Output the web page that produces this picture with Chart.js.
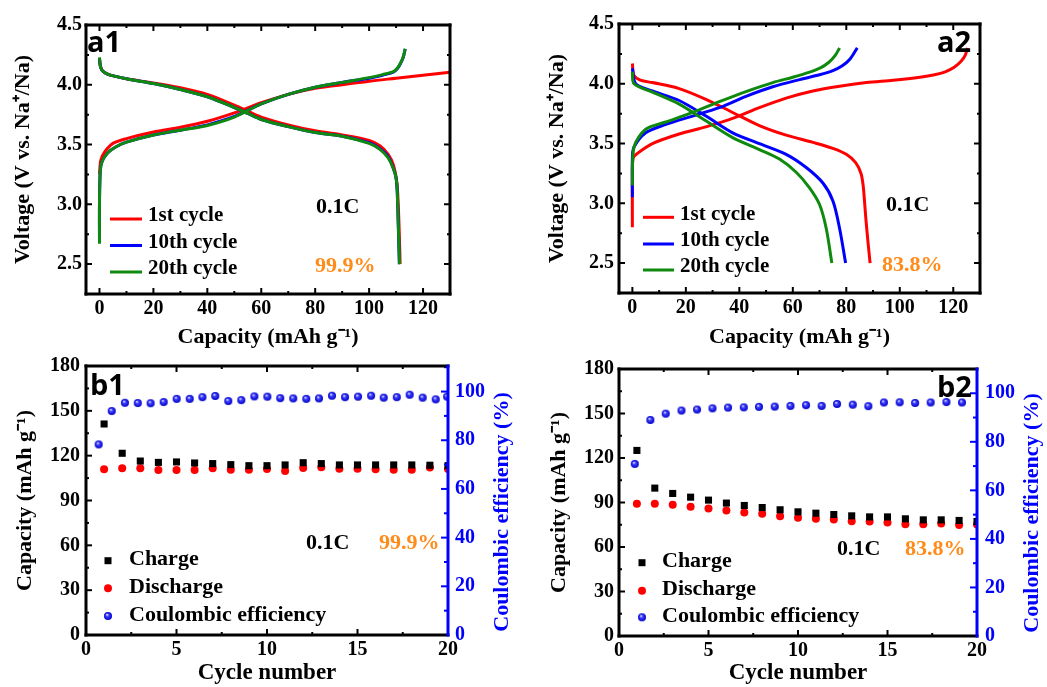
<!DOCTYPE html>
<html><head><meta charset="utf-8">
<script src="https://cdn.jsdelivr.net/npm/chart.js@4.4.1/dist/chart.umd.min.js"></script>
<style>
html,body{margin:0;padding:0;background:#fff;}
body{width:1047px;height:687px;position:relative;overflow:hidden;}
canvas{position:absolute;}
</style></head><body>
<canvas id="a1" width="520" height="352" style="left:0px;top:0px"></canvas>
<canvas id="a2" width="527" height="352" style="left:520px;top:0px"></canvas>
<canvas id="b1" width="530" height="342" style="left:0px;top:345px"></canvas>
<canvas id="b2" width="527" height="342" style="left:520px;top:345px"></canvas>
<script>
// ---------- DATA ----------
// Panel a1 (voltage profiles, material 1)
const a1_c1ChgX = [0, 0.5, 2, 5, 10, 20, 30, 40, 50, 60, 70, 80, 90, 100, 110, 120, 130];
const a1_c1ChgV = [3.25, 3.37, 3.44, 3.51, 3.55, 3.605, 3.645, 3.695, 3.765, 3.85, 3.92, 3.97, 4.00, 4.03, 4.055, 4.08, 4.105];
const a1_c1DisX = [0, 0.3, 1, 3, 6, 10, 20, 30, 40, 50, 55, 60, 70, 80, 90, 100, 104, 107, 109, 110.3, 110.8, 111.2, 111.5];
const a1_c1DisV = [4.22, 4.16, 4.12, 4.09, 4.07, 4.05, 4.015, 3.975, 3.92, 3.83, 3.78, 3.73, 3.665, 3.615, 3.58, 3.535, 3.49, 3.42, 3.33, 3.18, 3.0, 2.75, 2.5];
const a1_c10ChgX = [0, 0, 0.3, 1, 3, 6, 10, 20, 30, 40, 50, 60, 70, 80, 90, 100, 105, 109, 110.5, 111.6, 112.6, 113.4];
const a1_c10ChgV = [2.70, 3.0, 3.28, 3.36, 3.43, 3.48, 3.52, 3.58, 3.62, 3.665, 3.735, 3.84, 3.92, 3.98, 4.02, 4.055, 4.08, 4.105, 4.135, 4.175, 4.225, 4.30];
const a1_c10DisX = [0, 0.3, 1, 3, 6, 10, 20, 30, 40, 50, 55, 60, 70, 80, 90, 100, 104, 107, 109, 110, 110.4, 110.7, 111.2];
const a1_c10DisV = [4.22, 4.16, 4.12, 4.09, 4.07, 4.05, 4.01, 3.96, 3.90, 3.81, 3.76, 3.71, 3.65, 3.60, 3.57, 3.515, 3.465, 3.40, 3.30, 3.22, 3.12, 2.92, 2.5];
const a1_c20ChgX = [0, 0, 0.3, 1, 3, 6, 10, 20, 30, 40, 50, 60, 70, 80, 90, 100, 105, 109, 110.5, 111.6, 112.6, 113.4];
const a1_c20ChgV = [2.67, 3.0, 3.28, 3.36, 3.43, 3.48, 3.52, 3.58, 3.62, 3.66, 3.73, 3.84, 3.92, 3.98, 4.02, 4.06, 4.085, 4.11, 4.14, 4.18, 4.23, 4.30];
const a1_c20DisX = [0, 0.3, 1, 3, 6, 10, 20, 30, 40, 50, 55, 60, 70, 80, 90, 100, 104, 107, 109, 110, 110.4, 110.7, 111.3];
const a1_c20DisV = [4.23, 4.16, 4.12, 4.09, 4.07, 4.05, 4.01, 3.96, 3.90, 3.81, 3.76, 3.71, 3.65, 3.60, 3.57, 3.51, 3.46, 3.39, 3.30, 3.22, 3.12, 2.92, 2.5];

// Panel a2 (voltage profiles, material 2)
const a2_c1ChgX = [0, 0, 0.3, 2, 7.5, 17.5, 27.5, 37.5, 47.5, 57.5, 67.5, 77.5, 87.5, 97.5, 107.5, 113, 117, 120.5, 123, 124.5, 125.3];
const a2_c1ChgV = [2.80, 3.20, 3.38, 3.42, 3.50, 3.58, 3.64, 3.71, 3.80, 3.88, 3.94, 3.98, 4.01, 4.03, 4.055, 4.075, 4.10, 4.14, 4.19, 4.24, 4.30];
const a2_c1DisX = [0, 0.6, 3, 7.5, 17.5, 27.5, 37.5, 47.5, 57.5, 67.5, 75, 80, 83.5, 85.5, 86.3, 86.8, 87.4, 88.1, 88.9];
const a2_c1DisV = [4.17, 4.07, 4.03, 4.01, 3.96, 3.87, 3.76, 3.65, 3.57, 3.51, 3.46, 3.41, 3.34, 3.25, 3.15, 3.02, 2.85, 2.68, 2.5];
const a2_c10ChgX = [0, 0, 0.6, 5, 12.5, 22.5, 32.5, 42.5, 52.5, 62.5, 70, 75, 78.5, 81.5, 84.1];
const a2_c10ChgV = [3.05, 3.38, 3.47, 3.59, 3.66, 3.73, 3.80, 3.895, 3.975, 4.035, 4.075, 4.11, 4.15, 4.21, 4.30];
const a2_c10DisX = [0, 1.25, 7.5, 17.5, 27.5, 37.5, 47.5, 57.5, 65, 71.25, 75, 77.5, 79.75];
const a2_c10DisV = [4.13, 4.0, 3.94, 3.86, 3.73, 3.59, 3.50, 3.41, 3.30, 3.17, 3.02, 2.79, 2.5];
const a2_c20ChgX = [0, 0.6, 5, 12.5, 22.5, 32.5, 42.5, 52.5, 60, 66, 70.5, 73.5, 75.8, 77.5];
const a2_c20ChgV = [3.15, 3.47, 3.62, 3.68, 3.76, 3.85, 3.935, 4.01, 4.055, 4.095, 4.135, 4.18, 4.235, 4.30];
const a2_c20DisX = [0, 0.6, 7.5, 17.5, 27.5, 37.5, 47.5, 55, 61.25, 66.25, 70, 72.5, 74.6];
const a2_c20DisV = [4.10, 4.0, 3.93, 3.83, 3.69, 3.55, 3.45, 3.37, 3.26, 3.13, 2.99, 2.79, 2.5];

// Panels b1 / b2 (cycling)
const cycles = [1,2,3,4,5,6,7,8,9,10,11,12,13,14,15,16,17,18,19,20];
const b1_charge = [141.2,121.6,116.4,115.5,115.8,115.1,114.7,114.0,113.3,113.3,113.8,115.3,114.7,113.8,113.8,113.8,113.8,113.8,113.6,113.3];
const b1_discharge = [110.9,111.5,111.5,110.4,110.4,110.4,111.5,110.6,110.6,111.1,109.7,111.7,112.2,111.3,111.3,110.9,110.6,110.6,112.0,111.1];
const b1_ceX = [0.70,1.42,2.15,2.86,3.57,4.29,5.01,5.73,6.43,7.14,7.86,8.58,9.30,10.02,10.73,11.45,12.17,12.87,13.59,14.31,15.03,15.75,16.45,17.17,17.88,18.60,19.32,19.95];
const b1_ce = [78.3,92.0,95.4,95.3,95.2,95.7,97.0,97.0,97.7,98.2,96.1,96.5,98.0,97.9,97.3,97.2,97.0,97.2,98.3,97.7,97.9,98.3,97.5,97.7,98.7,97.5,96.8,97.9];
const b2_charge = [125.1,99.7,96.1,93.6,91.6,89.6,88.0,86.6,85.1,83.7,82.8,81.9,81.0,80.3,80.3,79.0,78.3,78.3,77.9,77.2];
const b2_discharge = [89.1,89.1,88.4,87.1,86.0,84.6,83.3,82.4,80.8,79.7,79.0,78.5,77.4,77.2,76.5,75.4,75.4,75.8,74.9,75.2];
const b2_ceX = [0.88,1.75,2.61,3.49,4.36,5.22,6.09,6.97,7.82,8.70,9.58,10.45,11.32,12.18,13.06,13.93,14.80,15.68,16.54,17.41,18.29,19.16];
const b2_ce = [70.9,89.0,91.6,92.9,93.3,93.8,94.1,94.2,94.4,94.5,94.8,95.1,94.8,95.6,95.3,94.7,96.2,96.3,96.0,96.2,96.4,96.2];

const cycleLabels = ['1st cycle','10th cycle','20th cycle'];
const bLabels = ['Charge','Discharge','Coulombic efficiency'];

// ---------- STYLE ----------
const SERIF = "'Liberation Serif','Times New Roman',serif";
const SANS = "'Open Sans','Liberation Sans',sans-serif";
const RED = '#ff0000', BLUE = '#0000ff', GREEN = '#0f8a0f', ORANGE = '#ff8c1a';

function pts(xs, ys){ return xs.map((x,i)=>({x:x, y:ys[i]})); }

function sphere(r){
  const c = document.createElement('canvas');
  const s = Math.ceil(2*r+2); c.width = s; c.height = s;
  const g = c.getContext('2d'); const cx = s/2, cy = s/2;
  const gr = g.createRadialGradient(cx-r*0.25, cy-r*0.35, 0.2, cx, cy, r);
  gr.addColorStop(0, '#eeeeff'); gr.addColorStop(0.35, '#4040ff'); gr.addColorStop(1, '#0000c8');
  g.fillStyle = gr; g.beginPath(); g.arc(cx, cy, r, 0, Math.PI*2); g.fill();
  return c;
}
const SPH = sphere(4);

const decor = {
  id: 'decor',
  afterDatasetsDraw(chart, args, o){
    const ctx = chart.ctx, a = chart.chartArea;
    ctx.save();
    ctx.lineCap = 'butt';
    (o.ticks||[]).forEach(t => {
      const sc = chart.scales[t.scale];
      const vals = sc.ticks.map(k => k.value);
      const step = vals[1]-vals[0];
      const minors = [];
      for (let i = -1; i < vals.length; i++) {
        const v = vals[0] + step*i + step/2;
        if (v >= sc.min - 1e-9 && v <= sc.max + 1e-9) minors.push(v);
      }
      ctx.strokeStyle = t.color; ctx.lineWidth = 2;
      const draw = (v, len) => {
        const p = sc.getPixelForValue(v);
        ctx.beginPath();
        t.sides.forEach(s => {
          if (s==='bottom'){ ctx.moveTo(p, a.bottom); ctx.lineTo(p, a.bottom-len); }
          if (s==='top'){ ctx.moveTo(p, a.top); ctx.lineTo(p, a.top+len); }
          if (s==='left'){ ctx.moveTo(a.left, p); ctx.lineTo(a.left+len, p); }
          if (s==='right'){ ctx.moveTo(a.right, p); ctx.lineTo(a.right-len, p); }
        });
        ctx.stroke();
      };
      vals.forEach(v => draw(v, t.major));
      minors.forEach(v => draw(v, t.minor));
    });
    // frame
    const fc = o.frame || {};
    ctx.lineWidth = 3; ctx.lineCap = 'square';
    const side = (c, x1, y1, x2, y2) => { ctx.strokeStyle = c; ctx.beginPath(); ctx.moveTo(x1,y1); ctx.lineTo(x2,y2); ctx.stroke(); };
    side(fc.top||'#000', a.left, a.top, a.right, a.top);
    side(fc.bottom||'#000', a.left, a.bottom, a.right, a.bottom);
    side(fc.left||'#000', a.left, a.top, a.left, a.bottom);
    side(fc.right||'#000', a.right, a.top, a.right, a.bottom);
    // legend
    if (o.legend) {
      const L = o.legend;
      ctx.font = 'bold ' + L.size + 'px ' + SERIF;
      ctx.textBaseline = 'middle'; ctx.textAlign = 'left';
      L.items.forEach((it, i) => {
        const ds = chart.data.datasets[it.ds];
        const y = L.ys[i];
        if (L.kind === 'line') {
          ctx.strokeStyle = ds.borderColor; ctx.lineWidth = 3; ctx.lineCap = 'butt';
          ctx.beginPath(); ctx.moveTo(L.x0, y); ctx.lineTo(L.x1, y); ctx.stroke();
        } else {
          const ps = ds.pointStyle;
          if (ps === 'rect') { ctx.fillStyle = ds.backgroundColor; ctx.fillRect(L.x0-3.5, y-3.5, 7, 7); }
          else if (ps === 'circle') { ctx.fillStyle = ds.backgroundColor; ctx.beginPath(); ctx.arc(L.x0, y, 4, 0, Math.PI*2); ctx.fill(); }
          else { ctx.drawImage(ps, L.x0 - ps.width/2, y - ps.height/2); }
        }
        ctx.fillStyle = '#000';
        ctx.fillText(it.label, L.tx, y + (L.dy||0));
      });
    }
    // texts
    (o.texts||[]).forEach(t => {
      ctx.save();
      ctx.font = t.font; ctx.fillStyle = t.color;
      ctx.textAlign = t.align || 'left'; ctx.textBaseline = t.base || 'middle';
      ctx.translate(t.x, t.y);
      if (t.rot) ctx.rotate(t.rot);
      ctx.fillText(t.text, 0, 0);
      ctx.restore();
    });
    ctx.restore();
  }
};

const tickFont = {family: SERIF, size: 20, weight: 'bold'};
const titleFont = {family: SERIF, size: 22, weight: 'bold'};

// lower "order" is drawn on top (green over blue over red)
function lineDs(label, xs, ys, color, order){
  return {label: label, data: pts(xs, ys), showLine: true, borderColor: color, backgroundColor: color,
          borderWidth: 3, pointRadius: 0, tension: 0.3, fill: false, order: order};
}

function voltageChart(id, sets, L){
  return new Chart(document.getElementById(id), {
    type: 'scatter',
    data: { datasets: sets },
    plugins: [decor],
    options: {
      responsive: false, animation: false, devicePixelRatio: 1,
      layout: { padding: L.pad },
      plugins: {
        legend: {display: false}, tooltip: {enabled: false},
        decor: L.decor
      },
      scales: {
        x: { type: 'linear', min: -5, max: 130,
             ticks: {stepSize: 20, includeBounds: false, autoSkip: false, maxRotation: 0, padding: 3, color: '#000', font: tickFont},
             grid: {display: false, drawTicks: false}, border: {display: false},
             title: {display: true, text: 'Capacity (mAh g\u207B\u00B9)', color: '#000', font: titleFont, padding: {top: 0, bottom: 1}},
             afterFit: s => { s.height = L.xh; } },
        y: { type: 'linear', min: 2.25, max: 4.5,
             ticks: {stepSize: 0.5, includeBounds: false, autoSkip: false, padding: L.ytp, color: '#000', font: tickFont, callback: v => Number(v).toFixed(1)},
             grid: {display: false, drawTicks: false}, border: {display: false},
             title: {display: true, text: 'Voltage (V vs. Na\u207A/Na)', color: '#000', font: titleFont, padding: {top: L.ytitle, bottom: 0}},
             afterFit: s => { s.width = L.yw; } }
      }
    }
  });
}

function cycleChart(id, chg, dis, ceX, ce, L){
  return new Chart(document.getElementById(id), {
    type: 'scatter',
    data: { datasets: [
      {label: bLabels[0], data: pts(cycles, chg), pointStyle: 'rect', pointRadius: 5, backgroundColor: '#000', borderColor: '#000', borderWidth: 0, yAxisID: 'y'},
      {label: bLabels[1], data: pts(cycles, dis), pointStyle: 'circle', pointRadius: 4, backgroundColor: RED, borderColor: RED, borderWidth: 0, yAxisID: 'y'},
      {label: bLabels[2], data: pts(ceX, ce), pointStyle: SPH, pointRadius: 4, backgroundColor: BLUE, borderColor: BLUE, borderWidth: 0, yAxisID: 'y1'}
    ]},
    plugins: [decor],
    options: {
      responsive: false, animation: false, devicePixelRatio: 1,
      layout: { padding: L.pad },
      plugins: { legend: {display: false}, tooltip: {enabled: false}, decor: L.decor },
      scales: {
        x: { type: 'linear', min: 0, max: 20,
             ticks: {stepSize: 5, includeBounds: false, autoSkip: false, maxRotation: 0, padding: 3, color: '#000', font: tickFont},
             grid: {display: false, drawTicks: false}, border: {display: false},
             title: {display: true, text: 'Cycle number', color: '#000', font: {family: SERIF, size: 23, weight: 'bold'}, padding: {top: 0, bottom: 0}},
             afterFit: s => { s.height = L.xh; } },
        y: { type: 'linear', position: 'left', min: 0, max: 180,
             ticks: {stepSize: 30, includeBounds: false, autoSkip: false, padding: L.ytp, color: '#000', font: tickFont},
             grid: {display: false, drawTicks: false}, border: {display: false},
             title: {display: true, text: 'Capacity (mAh g\u207B\u00B9)', color: '#000', font: titleFont, padding: {top: L.ytitle, bottom: 0}},
             afterFit: s => { s.width = L.yw; } },
        y1: { type: 'linear', position: 'right', min: 0, max: L.rmax,
             ticks: {stepSize: 20, includeBounds: false, autoSkip: false, padding: L.rtp, color: BLUE, font: tickFont},
             grid: {display: false, drawTicks: false}, border: {display: false},
             title: {display: false},
             afterFit: s => { s.width = L.rw; } }
      }
    }
  });
}

const numFont = 'bold 22px ' + SERIF;
const tagFont = 'bold 29px ' + SANS;

// a1
voltageChart('a1', [
  lineDs(cycleLabels[0], a1_c1ChgX, a1_c1ChgV, RED, 2),
  lineDs(cycleLabels[0], a1_c1DisX, a1_c1DisV, RED, 2),
  lineDs(cycleLabels[1], a1_c10ChgX, a1_c10ChgV, BLUE, 1),
  lineDs(cycleLabels[1], a1_c10DisX, a1_c10DisV, BLUE, 1),
  lineDs(cycleLabels[2], a1_c20ChgX, a1_c20ChgV, GREEN, 0),
  lineDs(cycleLabels[2], a1_c20DisX, a1_c20DisV, GREEN, 0)
], {
  pad: {left: 0, top: 25, right: 70, bottom: 0}, xh: 58, yw: 86, ytp: 4, ytitle: 10,
  decor: {
    ticks: [{scale: 'x', sides: ['bottom','top'], major: 6, minor: 3, color: '#000'},
            {scale: 'y', sides: ['left','right'], major: 6, minor: 3, color: '#000'}],
    legend: {kind: 'line', size: 21, x0: 110, x1: 142, tx: 148, dy: -3, ys: [219, 245.5, 272],
             items: [{ds: 0, label: cycleLabels[0]}, {ds: 2, label: cycleLabels[1]}, {ds: 4, label: cycleLabels[2]}]},
    texts: [
      {text: '0.1C', x: 316, y: 207, font: numFont, color: '#000'},
      {text: '99.9%', x: 315, y: 266, font: numFont, color: ORANGE},
      {text: 'a1', x: 87, y: 52, font: tagFont, color: '#000', base: 'alphabetic'}
    ]
  }
});

// a2
voltageChart('a2', [
  lineDs(cycleLabels[0], a2_c1ChgX, a2_c1ChgV, RED, 2),
  lineDs(cycleLabels[0], a2_c1DisX, a2_c1DisV, RED, 2),
  lineDs(cycleLabels[1], a2_c10ChgX, a2_c10ChgV, BLUE, 1),
  lineDs(cycleLabels[1], a2_c10DisX, a2_c10DisV, BLUE, 1),
  lineDs(cycleLabels[2], a2_c20ChgX, a2_c20ChgV, GREEN, 0),
  lineDs(cycleLabels[2], a2_c20DisX, a2_c20DisV, GREEN, 0)
], {
  pad: {left: 0, top: 24, right: 67, bottom: 0}, xh: 59, yw: 99, ytp: 5, ytitle: 24,
  decor: {
    ticks: [{scale: 'x', sides: ['bottom','top'], major: 6, minor: 3, color: '#000'},
            {scale: 'y', sides: ['left','right'], major: 6, minor: 3, color: '#000'}],
    legend: {kind: 'line', size: 21, x0: 123, x1: 154, tx: 160, dy: -3, ys: [217.3, 244, 270],
             items: [{ds: 0, label: cycleLabels[0]}, {ds: 2, label: cycleLabels[1]}, {ds: 4, label: cycleLabels[2]}]},
    texts: [
      {text: '0.1C', x: 366, y: 205, font: numFont, color: '#000'},
      {text: '83.8%', x: 362, y: 265, font: numFont, color: ORANGE},
      {text: 'a2', x: 417, y: 52, font: tagFont, color: '#000', base: 'alphabetic'}
    ]
  }
});

// b1
cycleChart('b1', b1_charge, b1_discharge, b1_ceX, b1_ce, {
  pad: {left: 0, top: 21, right: 0, bottom: 0}, xh: 52, yw: 86, rw: 82, rmax: 110.5, ytp: 6, rtp: 7, ytitle: 12,
  decor: {
    frame: {right: BLUE},
    ticks: [{scale: 'x', sides: ['bottom','top'], major: 6, minor: 3, color: '#000'},
            {scale: 'y', sides: ['left'], major: 6, minor: 3, color: '#000'},
            {scale: 'y1', sides: ['right'], major: 7, minor: 4, color: BLUE}],
    legend: {kind: 'marker', size: 22, x0: 108, tx: 129, dy: -1, ys: [215.7, 243.3, 271],
             items: [{ds: 0, label: bLabels[0]}, {ds: 1, label: bLabels[1]}, {ds: 2, label: bLabels[2]}]},
    texts: [
      {text: '0.1C', x: 306, y: 198, font: numFont, color: '#000'},
      {text: '99.9%', x: 379, y: 198, font: numFont, color: ORANGE},
      {text: 'b1', x: 90, y: 50, font: tagFont, color: '#000', base: 'alphabetic'},
      {text: 'Coulombic efficiency (%)', x: 502, y: 167, font: 'bold 22px ' + SERIF, color: BLUE, align: 'center', rot: -Math.PI/2}
    ]
  }
});

// b2
cycleChart('b2', b2_charge, b2_discharge, b2_ceX, b2_ce, {
  pad: {left: 0, top: 24, right: 0, bottom: 0}, xh: 51, yw: 99, rw: 70, rmax: 110, ytp: 5, rtp: 8, ytitle: 26,
  decor: {
    frame: {right: BLUE},
    ticks: [{scale: 'x', sides: ['bottom','top'], major: 6, minor: 3, color: '#000'},
            {scale: 'y', sides: ['left'], major: 6, minor: 3, color: '#000'},
            {scale: 'y1', sides: ['right'], major: 7, minor: 4, color: BLUE}],
    legend: {kind: 'marker', size: 22, x0: 122, tx: 142, dy: -1, ys: [217.7, 245.7, 272.3],
             items: [{ds: 0, label: bLabels[0]}, {ds: 1, label: bLabels[1]}, {ds: 2, label: bLabels[2]}]},
    texts: [
      {text: '0.1C', x: 317, y: 204, font: numFont, color: '#000'},
      {text: '83.8%', x: 385, y: 204, font: numFont, color: ORANGE},
      {text: 'b2', x: 417, y: 52, font: tagFont, color: '#000', base: 'alphabetic'},
      {text: 'Coulombic efficiency (%)', x: 512, y: 168, font: 'bold 22px ' + SERIF, color: BLUE, align: 'center', rot: -Math.PI/2}
    ]
  }
});
</script>
</body></html>
